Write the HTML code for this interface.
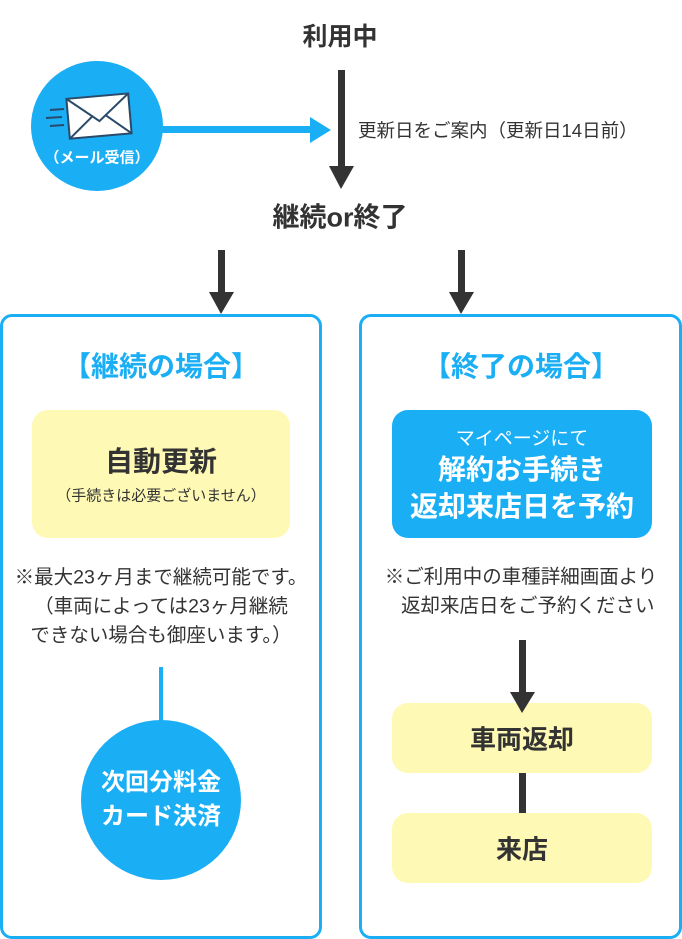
<!DOCTYPE html>
<html><head><meta charset="utf-8"><style>
body{margin:0;width:682px;height:925px;position:relative;background:#fff;font-family:"Liberation Sans","Noto Sans CJK JP",sans-serif;color:#333;overflow:hidden}
.a{position:absolute}
.t{position:absolute;white-space:nowrap;text-align:center;transform:translate(-50%,-50%)}
.box{position:absolute;border:3px solid #1aaef5;border-radius:12px;box-sizing:border-box}
</style></head><body>
<div class="box" style="left:0;top:314px;width:322px;height:625px"></div>
<div class="box" style="left:359px;top:314px;width:323px;height:625px"></div>
<svg class="a" style="left:0;top:0" width="682" height="925">
<rect x="338" y="70" width="7" height="98" fill="#333"/><polygon points="329,166 354,166 341,189" fill="#333"/>
<rect x="160" y="126" width="152" height="7" fill="#1aaef5"/><polygon points="310,117 310,143 331,130" fill="#1aaef5"/>
<ellipse cx="97" cy="126" rx="66" ry="65" fill="#1aaef5"/>
<g transform="rotate(-5 100 116)"><rect x="68" y="96" width="62" height="40" fill="#fff" stroke="#2a4a6a" stroke-width="2"/><polyline points="68,96 99,121 130,96" fill="none" stroke="#2a4a6a" stroke-width="2"/><line x1="68" y1="136" x2="92" y2="116" stroke="#2a4a6a" stroke-width="2"/><line x1="130" y1="136" x2="106" y2="116" stroke="#2a4a6a" stroke-width="2"/></g>
<line x1="50" y1="110" x2="64" y2="109" stroke="#2a4a6a" stroke-width="2"/><line x1="46" y1="118" x2="62" y2="117" stroke="#2a4a6a" stroke-width="2"/><line x1="50" y1="126" x2="64" y2="125" stroke="#2a4a6a" stroke-width="2"/>
<rect x="218" y="250" width="7" height="44" fill="#333"/><polygon points="209,292 234,292 221,314" fill="#333"/>
<rect x="458" y="250" width="7" height="44" fill="#333"/><polygon points="449,292 474,292 461,314" fill="#333"/>
<rect x="32" y="410" width="258" height="128" rx="16" fill="#fef9b5"/>
<rect x="392" y="410" width="260" height="128" rx="16" fill="#1aaef5"/>
<rect x="392" y="703" width="260" height="70" rx="16" fill="#fef9b5"/>
<rect x="392" y="813" width="260" height="70" rx="16" fill="#fef9b5"/>
<rect x="159" y="667" width="4" height="55" fill="#1aaef5"/>
<circle cx="161" cy="800" r="80" fill="#1aaef5"/>
<rect x="519" y="640" width="7" height="54" fill="#333"/><polygon points="510,692 535,692 522,713" fill="#333"/>
<rect x="519" y="773" width="7" height="40" fill="#333"/>
</svg>
<div class="t" style="left:340px;top:35px;font-size:25px;font-weight:bold">利用中</div>
<div class="t" style="left:97px;top:157px;font-size:15px;font-weight:bold;color:#fff">（メール受信）</div>
<div class="a" style="left:358px;top:117px;font-size:18.5px;white-space:nowrap">更新日をご案内（更新日14日前）</div>
<div class="t" style="left:340px;top:215px;font-size:27px;font-weight:bold">継続or終了</div>
<div class="t" style="left:161px;top:365px;font-size:28px;font-weight:bold;color:#1aaef5">【継続の場合】</div>
<div class="t" style="left:521px;top:365px;font-size:28px;font-weight:bold;color:#1aaef5">【終了の場合】</div>
<div class="t" style="left:161px;top:460px;font-size:28px;font-weight:bold">自動更新</div>
<div class="t" style="left:161px;top:495px;font-size:15px">（手続きは必要ございません）</div>
<div class="t" style="left:161px;top:607px;font-size:19.5px;line-height:29px">※最大23ヶ月まで継続可能です。<br>（車両によっては23ヶ月継続<br>できない場合も御座います。）</div>
<div class="t" style="left:522px;top:437px;font-size:19px;color:#fff">マイページにて</div>
<div class="t" style="left:522px;top:488px;font-size:28px;font-weight:bold;color:#fff;line-height:37px">解約お手続き<br>返却来店日を予約</div>
<div class="t" style="left:521px;top:592px;font-size:19.5px;line-height:29px;text-align:left">※ご利用中の車種詳細画面より<br>&nbsp;&nbsp;&nbsp;返却来店日をご予約ください</div>
<div class="t" style="left:161px;top:800px;font-size:24px;font-weight:bold;color:#fff;line-height:34px">次回分料金<br>カード決済</div>
<div class="t" style="left:522px;top:738px;font-size:26px;font-weight:bold">車両返却</div>
<div class="t" style="left:522px;top:848px;font-size:26px;font-weight:bold">来店</div>
</body></html>
